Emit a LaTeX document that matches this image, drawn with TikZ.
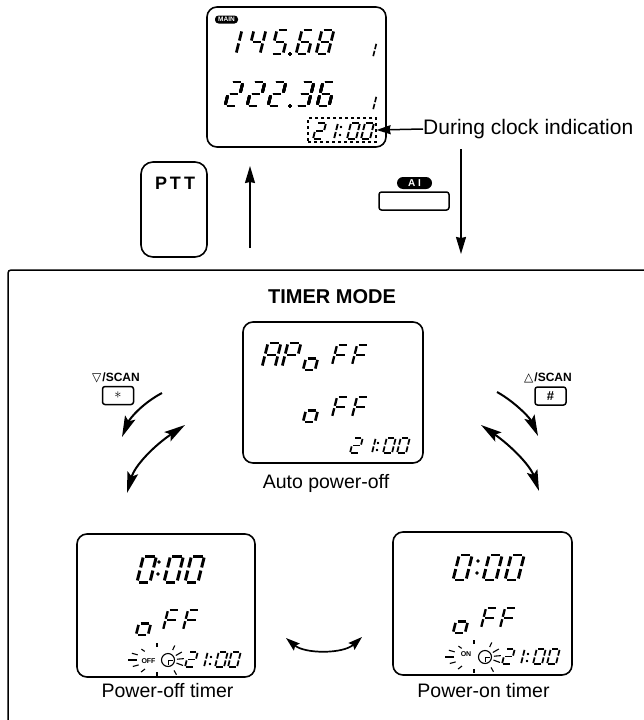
\documentclass[tikz,border=0pt]{standalone}
\usepackage{fontspec}
\setmainfont{Liberation Sans}
\newfontfamily\symfont{DejaVu Sans}
\usetikzlibrary{arrows.meta,calc}

\tikzset{
  lcdbox/.style={draw,line width=1.6pt,rounded corners=10pt,inner sep=0pt},
  keybox/.style={draw,line width=1.5pt,rounded corners=2.5pt,inner sep=0pt,minimum width=31pt,minimum height=18pt},
  tagpill/.style={fill=black,text=white,rounded corners=3.5pt,inner sep=0pt,font=\bfseries},
  caption/.style={anchor=base,inner sep=0pt,font=\fontsize{19.5}{22}\selectfont},
  readout/.style={text opacity=0,inner sep=0pt,font=\fontsize{9}{10}\selectfont},
  thinarrow/.style={line width=1.5pt,-{Stealth[length=17pt,width=10pt,inset=1pt]}},
  bentarrow/.style={line width=2pt,-{Stealth[length=21pt,width=11pt,inset=4pt]}},
  bentboth/.style={line width=2pt,{Stealth[length=21pt,width=11pt,inset=4pt]}-{Stealth[length=21pt,width=11pt,inset=4pt]}},
  bentsmall/.style={line width=1.7pt,{Stealth[length=14pt,width=9pt,inset=2pt]}-{Stealth[length=14pt,width=9pt,inset=2pt]}}
}

\newcommand{\defglyph}[2]{\expandafter\def\csname glyph#1\endcsname{#2}}
\defglyph{0}{a,b,c,d,e,f}
\defglyph{1}{b,c}
\defglyph{2}{a,b,g,e,d}
\defglyph{3}{a,b,g,c,d}
\defglyph{4}{f,g,b,c}
\defglyph{5}{a,f,g,c,d}
\defglyph{6}{a,f,g,e,c,d}
\defglyph{8}{a,b,c,d,e,f,g}
\defglyph{A}{a,b,c,e,f,g}
\defglyph{P}{a,b,e,f,g}
\defglyph{F}{a,e,f,g}
\defglyph{o}{c,d,e,g}
\newcommand{\sega}{\draw (.14,2) -- (.86,2);}
\newcommand{\segb}{\draw (1,1.88) -- (1,1.12);}
\newcommand{\segc}{\draw (1,.88) -- (1,.12);}
\newcommand{\segd}{\draw (.14,0) -- (.86,0);}
\newcommand{\sege}{\draw (0,.88) -- (0,.12);}
\newcommand{\segf}{\draw (0,1.88) -- (0,1.12);}
\newcommand{\segg}{\draw (.14,1) -- (.86,1);}

% x, baseline, width, half height, glyph
\newcommand{\lcdchar}[5]{%
  \begin{scope}[shift={(#1,#2)},x=#3pt,y=#4pt,xslant=.25,line width=#4*.23pt]
    \edef\segs{\csname glyph#5\endcsname}
    \foreach \s in \segs {\csname seg\s\endcsname}
  \end{scope}}

% flashing rays round the timer flag and clock
\newcommand{\blink}[2]{%
  \begin{scope}[shift={(#1,#2)},line width=1.1pt]
    \foreach \a/\r/\q in {90/12/16,270/13/17,143/15/20,180/20/29,165/19/25,195/20/26,215/15/19}
      \draw (\a:\r) -- (\a:\q);
    \begin{scope}[shift={(11,0)}]
      \foreach \a/\r/\q in {60/12/17,20/9/16,-5/9/16,-30/9/16,-65/11/16}
        \draw (\a:\r) -- (\a:\q);
      \draw[line width=1.1pt] (0,0) circle[radius=6.5];
      \draw[line width=1pt] (0,0) -- (0,5) (0,0) -- (5,0);
    \end{scope}
  \end{scope}}

\begin{document}
\begin{tikzpicture}[x=1pt,y=-1pt]
\useasboundingbox (0,0) rectangle (644,720);

% top display
\node[lcdbox,minimum width=179pt,minimum height=140pt] (mainlcd) at (296.5,77) {};
\node[tagpill,minimum width=23pt,minimum height=8pt,font=\bfseries\fontsize{6.5}{7}\selectfont] (maintag) at (226.5,19.5) {MAIN};
\node[readout] (freqa) at (282,43) {145.68};
\node[readout] (freqb) at (278,95) {222.36};
\foreach \x/\c in {224/1,248/4,271/5,296/6,316/8} \lcdchar{\x}{54}{12}{12}{\c}
\foreach \x/\c in {225/2,247/2,268/2,296/3,317/6} \lcdchar{\x}{106}{12}{12}{\c}
\fill (290,54) circle[radius=1.7] (290,106) circle[radius=1.7];
\lcdchar{366}{57}{7}{7}{1}
\lcdchar{366}{110}{7}{7}{1}

\node[draw,dashed,line width=1.2pt,minimum width=68pt,minimum height=24pt,inner sep=0pt] (clockbox) at (342,130) {};
\node[readout] (clocka) at (342,131) {21:00};
\foreach \x/\c in {313/2,325/1,347/0,361/0} \lcdchar{\x}{139}{9}{8}{\c}
\fill (341,127) circle[radius=1.1] (340,135) circle[radius=1.1];
\node[anchor=west,inner sep=0pt,font=\fontsize{21}{24}\selectfont] (during) at (423,129) {During clock indication};
\draw[line width=1.5pt,-{Stealth[length=14pt,width=9pt,inset=1pt]}] (during.west) -- (clockbox.east);

% keys between display and frame
\node[lcdbox,minimum width=66pt,minimum height=95pt,rounded corners=12pt] (pttkey) at (174,209.5) {};
\node[inner sep=0pt,font=\bfseries\fontsize{18}{20}\selectfont] (pttlabel) at (175,183.5) {P\kern3ptT\kern3ptT};
\node[tagpill,minimum width=35pt,minimum height=12pt,rounded corners=6pt,font=\bfseries\fontsize{10}{11}\selectfont] (aitag) at (414.5,183) {A\kern3ptI};
\node[keybox,minimum width=70pt] (aikey) at (414,201) {};

\coordinate (upfrom) at (250,248);
\coordinate (upto) at (250,166);
\coordinate (downfrom) at (461,149);
\coordinate (downto) at (461,254);
\draw[thinarrow] (upfrom) -- (upto);
\draw[thinarrow] (downfrom) -- (downto);

% frame of the timer mode
\draw[line width=1.5pt,rounded corners=3pt] (8,720) -- (8,270) -- (644,270);
\node[inner sep=0pt,anchor=base,font=\bfseries\fontsize{20}{22}\selectfont] (timermode) at (332,303) {TIMER MODE};

% auto power-off
\node[lcdbox,minimum width=180pt,minimum height=141pt] (autolcd) at (333,392.5) {};
\node[readout] (autoa) at (315,355) {APoFF};
\node[readout] (autob) at (335,410) {oFF};
\node[readout] (autoc) at (379,446) {21:00};
\lcdchar{262}{367}{13}{12}{A}
\lcdchar{282}{367}{13}{12}{P}
\lcdchar{303}{370}{12}{11.5}{o}
\lcdchar{332}{365}{12}{10}{F}
\lcdchar{352}{365}{12}{10}{F}
\lcdchar{303}{422}{12}{11.5}{o}
\lcdchar{332}{417}{12}{10}{F}
\lcdchar{352}{417}{12}{10}{F}
\foreach \x/\c in {350/2,363/1,383/0,397/0} \lcdchar{\x}{453}{9}{7.5}{\c}
\fill (378,443) circle[radius=1.1] (377,450) circle[radius=1.1];
\node[caption] (autocap) at (326,488) {Auto power-off};

% power-off timer
\node[lcdbox,minimum width=178pt,minimum height=143pt] (offlcd) at (166,605.5) {};
\node[readout] (offa) at (170,568) {0:00};
\node[readout] (offb) at (170,622) {oFF};
\node[readout] (offc) at (213,660) {21:00};
\foreach \x/\c in {137/0,164/0,185/0} \lcdchar{\x}{582}{13}{13}{\c}
\fill (159,562) circle[radius=1.6] (158,574) circle[radius=1.6];
\lcdchar{136}{635}{12}{11.5}{o}
\lcdchar{163}{630}{12}{10}{F}
\lcdchar{183}{630}{12}{10}{F}
\node[inner sep=0pt,font=\bfseries\fontsize{7}{8}\selectfont] (offflag) at (148.5,661) {OFF};
\blink{157}{660}
\foreach \x/\c in {185/2,195/1,215/0,228/0} \lcdchar{\x}{667}{9}{7.5}{\c}
\fill (211,657) circle[radius=1.1] (210,664) circle[radius=1.1];
\node[caption] (offcap) at (167.5,697) {Power-off timer};

% power-on timer
\node[lcdbox,minimum width=179pt,minimum height=143pt] (onlcd) at (482.5,603.5) {};
\node[readout] (ona) at (486,566) {0:00};
\node[readout] (onb) at (486,620) {oFF};
\node[readout] (onc) at (530,656) {21:00};
\foreach \x/\c in {453/0,483/0,505/0} \lcdchar{\x}{580}{13}{12.5}{\c}
\fill (478,561) circle[radius=1.6] (477,573) circle[radius=1.6];
\lcdchar{453}{633}{12}{11.5}{o}
\lcdchar{481}{628}{12}{10}{F}
\lcdchar{500}{628}{12}{10}{F}
\node[inner sep=0pt,font=\bfseries\fontsize{7}{8}\selectfont] (onflag) at (466,654) {ON};
\blink{474}{657}
\foreach \x/\c in {502/2,512/1,533/0,547/0} \lcdchar{\x}{664}{9}{7.5}{\c}
\fill (528,654) circle[radius=1.1] (527,661) circle[radius=1.1];
\node[caption] (oncap) at (483.5,697) {Power-on timer};

% scan keys
\node[keybox] (starkey) at (118,395.5) {\fontsize{15}{15}\selectfont$\ast$};
\node[inner sep=0pt,anchor=base west,font=\bfseries\fontsize{12}{13}\selectfont] (starlabel) at (92,381) {{\symfont\mdseries ▽\kern1pt}/SCAN};
\node[keybox] (hashkey) at (550.5,396) {\bfseries\fontsize{13}{14}\selectfont\#};
\node[inner sep=0pt,anchor=base west,font=\bfseries\fontsize{12}{13}\selectfont] (hashlabel) at (524,381) {{\symfont\mdseries △\kern1pt}/SCAN};

% arrows of the timer mode
\coordinate (la) at (162,393);
\coordinate (lb) at (122,437);
\coordinate (lc) at (185,425);
\coordinate (ld) at (127,493);
\coordinate (ra) at (497,392);
\coordinate (rb) at (538,436);
\coordinate (rc) at (481,425);
\coordinate (rd) at (539,491);
\coordinate (ca) at (286,638);
\coordinate (cb) at (362,637);
\draw[bentarrow] (la) .. controls (143,403) and (130,418) .. (lb);
\draw[bentarrow] (ra) .. controls (515,402) and (530,418) .. (rb);
\draw[bentboth] (lc) .. controls (155,445) and (135,465) .. (ld);
\draw[bentboth] (rc) .. controls (510,445) and (530,465) .. (rd);
\draw[bentsmall] (ca) .. controls (305,654) and (343,654) .. (cb);

\end{tikzpicture}
\end{document}
